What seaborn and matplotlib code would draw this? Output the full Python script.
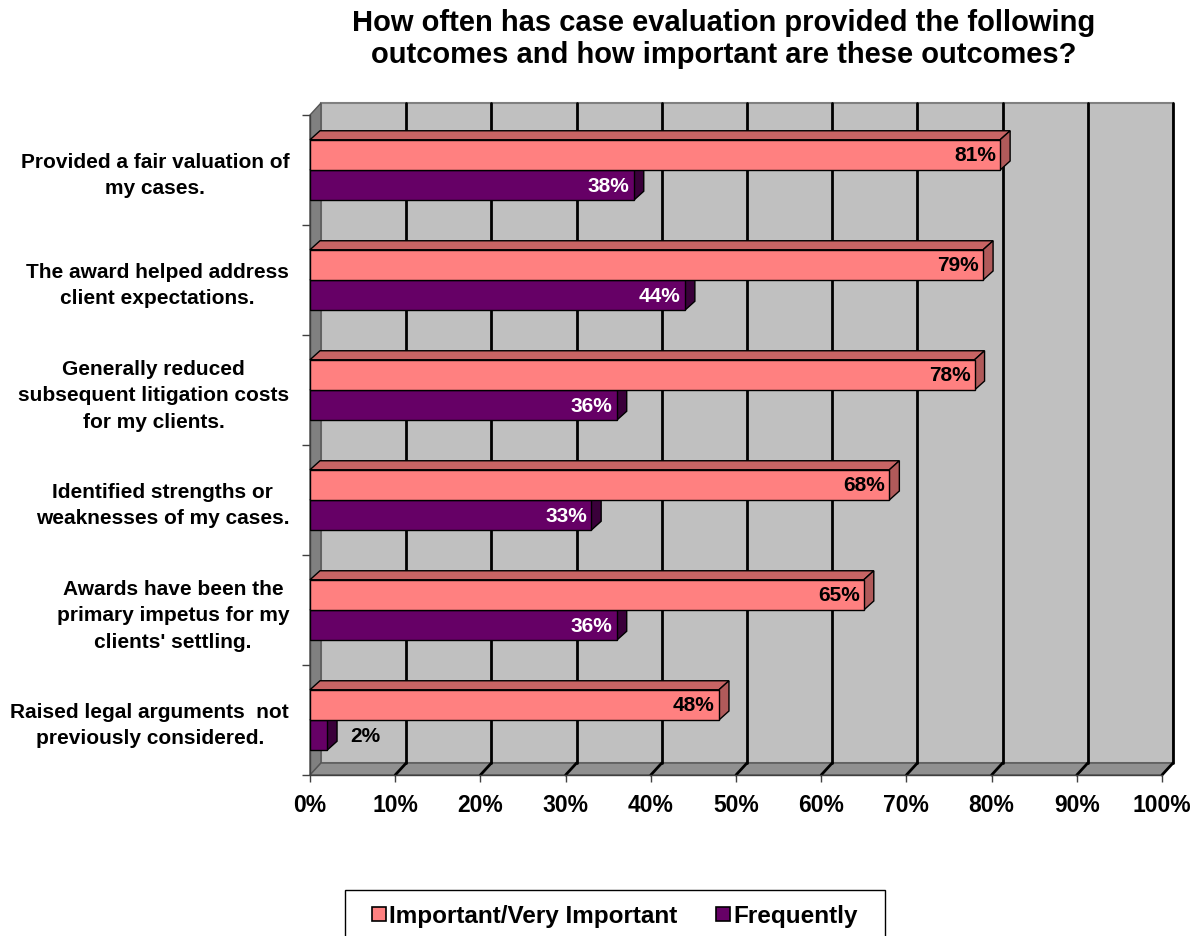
import matplotlib
matplotlib.use("Agg")
import matplotlib.pyplot as plt
from matplotlib.patches import Polygon, Patch, Rectangle
import seaborn as sns
import pandas as pd

categories = [
    "Provided a fair valuation of\nmy cases.",
    "The award helped address\nclient expectations.",
    "Generally reduced\nsubsequent litigation costs\nfor my clients.",
    "Identified strengths or\nweaknesses of my cases.",
    "Awards have been the\nprimary impetus for my\nclients' settling.",
    "Raised legal arguments  not\npreviously considered.",
]
important = [81, 79, 78, 68, 65, 48]
frequently = [38, 44, 36, 33, 36, 2]
series_names = ["Important/Very Important", "Frequently"]
x_ticks = [0, 10, 20, 30, 40, 50, 60, 70, 80, 90, 100]
title = "How often has case evaluation provided the following\noutcomes and how important are these outcomes?"

PINK, PINK_TOP, PINK_SIDE = "#FF8080", "#C86464", "#B05A5A"
PURP, PURP_TOP, PURP_SIDE = "#660066", "#4A004A", "#3A003A"

sns.set_theme(style="white")
plt.rcParams["font.family"] = ["Liberation Sans", "DejaVu Sans"]
plt.rcParams["font.weight"] = "bold"
plt.rcParams["text.color"] = "black"
plt.rcParams["xtick.color"] = "black"
plt.rcParams["ytick.color"] = "black"
plt.rcParams["axes.labelcolor"] = "black"

df = pd.DataFrame({
    "category": categories * 2,
    "value": important + frequently,
    "series": [series_names[0]] * len(categories) + [series_names[1]] * len(categories),
})

W, H = 1198, 936
fig = plt.figure(figsize=(W / 100, H / 100), dpi=100)
left, right, top, bottom = 310, 1162, 115, 775
ax = fig.add_axes([left / W, 1 - bottom / H, (right - left) / W, (bottom - top) / H])

sns.barplot(data=df, y="category", x="value", hue="series", orient="h",
            palette=[PINK, PURP], saturation=1, width=0.55, edgecolor="black",
            linewidth=1.0, ax=ax, legend=False, zorder=3)

ax.set_xlim(0, 100)
ax.set_ylim(5.5, -0.5)
ax.patch.set_visible(False)
for s in ax.spines.values():
    s.set_visible(False)

# depth offsets in data units
px_x = (right - left) / 100.0
px_y = (bottom - top) / 6.0
wall_dx, wall_dy = 11 / px_x, 12 / px_y
bar_dx, bar_dy = 10 / px_x, 9 / px_y

# back wall, left wall, floor
y0, y1 = -0.5, 5.5
ax.add_patch(Polygon([(wall_dx, y0 - wall_dy), (100 + wall_dx, y0 - wall_dy),
                      (100 + wall_dx, y1 - wall_dy), (wall_dx, y1 - wall_dy)],
                     closed=True, facecolor="#C0C0C0", edgecolor="#808080", lw=1.5,
                     zorder=0, clip_on=False))
ax.add_patch(Polygon([(0, y0), (wall_dx, y0 - wall_dy), (wall_dx, y1 - wall_dy), (0, y1)],
                     closed=True, facecolor="#808080", edgecolor="#555555", lw=1,
                     zorder=0.5, clip_on=False))
ax.add_patch(Polygon([(0, y1), (100, y1), (100 + wall_dx, y1 - wall_dy), (wall_dx, y1 - wall_dy)],
                     closed=True, facecolor="#909090", edgecolor="#555555", lw=1,
                     zorder=0.5, clip_on=False))
# gridlines on back wall and floor
for xv in x_ticks[1:]:
    ax.plot([xv + wall_dx, xv + wall_dx], [y0 - wall_dy, y1 - wall_dy], color="black",
            lw=2, zorder=1, clip_on=False)
    ax.plot([xv + wall_dx, xv], [y1 - wall_dy, y1], color="black", lw=2, zorder=1, clip_on=False)
ax.plot([0, 100], [y1, y1], color="#404040", lw=1, zorder=1, clip_on=False)
ax.plot([0, 0], [y0, y1], color="#404040", lw=1, zorder=1, clip_on=False)

# 3D faces on bars
for i, cont in enumerate(ax.containers):
    top_c, side_c = (PINK_TOP, PINK_SIDE) if i == 0 else (PURP_TOP, PURP_SIDE)
    z = 4 if i == 0 else 2
    for p in cont.patches:
        x0, w = p.get_x(), p.get_width()
        yy, hh = p.get_y(), p.get_height()
        yt, yb = min(yy, yy + hh), max(yy, yy + hh)
        p.set_zorder(z + 0.5)
        ax.add_patch(Polygon([(x0, yt), (x0 + w, yt), (x0 + w + bar_dx, yt - bar_dy), (x0 + bar_dx, yt - bar_dy)],
                             closed=True, facecolor=top_c, edgecolor="black", lw=1, zorder=z, clip_on=False))
        ax.add_patch(Polygon([(x0 + w, yt), (x0 + w + bar_dx, yt - bar_dy), (x0 + w + bar_dx, yb - bar_dy), (x0 + w, yb)],
                             closed=True, facecolor=side_c, edgecolor="black", lw=1, zorder=z, clip_on=False))
        val = w
        yc = (yt + yb) / 2
        if val >= 10:
            ax.text(val - 0.5, yc + 0.01, f"{val:.0f}%", ha="right", va="center", fontsize=15,
                    fontweight="bold", color="black" if i == 0 else "white", zorder=10)
        else:
            ax.text(val + bar_dx + 1.5, yc + 0.01, f"{val:.0f}%", ha="left", va="center", fontsize=15,
                    fontweight="bold", color="black", zorder=10)

# ticks
ax.set_xticks(x_ticks)
ax.set_xticklabels([f"{v}%" for v in x_ticks], fontsize=16.5, fontweight="bold")
ax.tick_params(axis="x", length=5, width=1, pad=9, bottom=True, color="#404040")
ax.set_yticks(range(len(categories)))
ax.set_yticklabels(categories, fontsize=15, fontweight="bold", multialignment="center",
                   linespacing=1.5)
ax.tick_params(axis="y", length=0, pad=15)
ax.set_yticks([v - 0.5 for v in range(len(categories) + 1)], minor=True)
ax.tick_params(axis="y", which="minor", length=6, width=1, left=True, color="#404040")
ax.set_xlabel("")
ax.set_ylabel("")

fig.text(724 / W, 1 - 39 / H, title, ha="center", va="center", fontsize=21,
         fontweight="bold", linespacing=1.2)

# legend with a custom wider frame
fig.add_artist(Rectangle((345 / W, -0.01), (885 - 345) / W, (936 - 890) / H + 0.01,
                         transform=fig.transFigure, facecolor="white", edgecolor="black",
                         lw=1.0, zorder=5, clip_on=False))
handles = [Patch(facecolor=PINK, edgecolor="black", lw=1.2),
           Patch(facecolor=PURP, edgecolor="black", lw=1.2)]
leg = fig.legend(handles, series_names, loc="center", bbox_to_anchor=(615 / W, 1 - 916 / H),
                 ncol=2, frameon=False,
                 prop={"size": 17.5, "weight": "bold"}, handlelength=0.55, handleheight=0.55,
                 handletextpad=0.15, columnspacing=1.6, borderpad=0.0)
leg.set_zorder(6)

fig.savefig("out.png", dpi=100)
